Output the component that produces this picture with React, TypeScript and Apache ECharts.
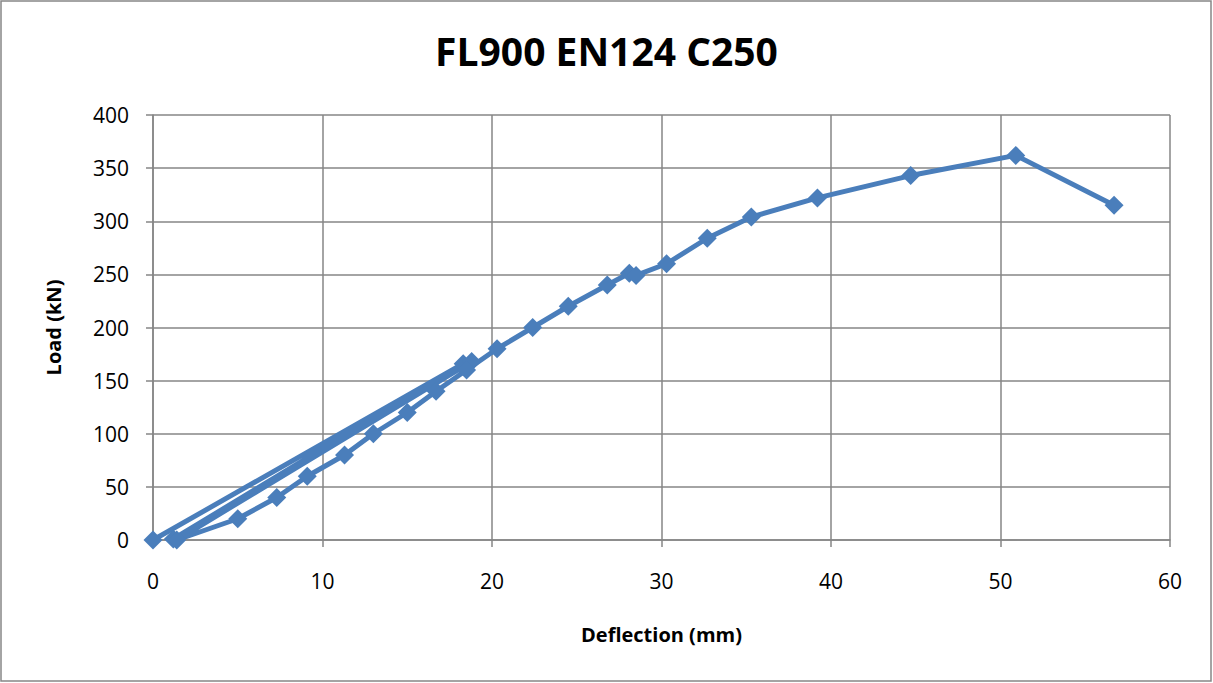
import React, { useEffect, useRef } from "react";
import * as echarts from "echarts";

const chartTitle = "FL900 EN124 C250";
const xAxisName = "Deflection (mm)";
const yAxisName = "Load (kN)";

// Deflection (mm) readings in test order (loading / unloading cycles)
const deflection = [
  0, 18.3, 1.2, 18.8, 1.4, 5.0, 7.3, 9.1, 11.3, 13.0, 15.0, 16.7, 18.5, 20.3,
  22.4, 24.5, 26.8, 28.1, 28.5, 30.3, 32.7, 35.3, 39.2, 44.7, 50.9, 56.7,
];
// Load (kN) readings in the same order
const load = [
  0, 166, 1, 168, 0, 20, 40, 60, 80, 100, 120, 140, 160, 180,
  200, 220, 240, 251, 249, 260, 284, 304, 322, 343, 362, 315,
];

const xTicks = { min: 0, max: 60, interval: 10 };
const yTicks = { min: 0, max: 400, interval: 50 };

const FONT = "'Open Sans', 'Liberation Sans', sans-serif";
const GRID_COLOR = "#868686";
const LINE_COLOR = "#4A7EBB";

export default function App() {
  const ref = useRef<HTMLDivElement>(null);

  useEffect(() => {
    document.body.style.margin = "0";
    if (!ref.current) return;
    const chart = echarts.init(ref.current, null, { renderer: "svg" });
    const points = deflection.map((d, i) => [d, load[i]]);
    chart.setOption({
      animation: false,
      backgroundColor: "#ffffff",
      title: {
        text: chartTitle,
        left: "center",
        top: 26,
        textStyle: {
          fontFamily: FONT,
          fontWeight: "bold",
          fontSize: 39,
          color: "#000",
        },
      },
      graphic: [
        {
          type: "rect",
          shape: { x: 1, y: 1, width: 1210, height: 680 },
          style: { fill: "none", stroke: GRID_COLOR, lineWidth: 1.5 },
          silent: true,
        },
      ],
      grid: { left: 153, right: 43, top: 115, bottom: 143 },
      xAxis: {
        type: "value",
        min: xTicks.min,
        max: xTicks.max,
        interval: xTicks.interval,
        name: xAxisName,
        nameLocation: "middle",
        nameGap: 84,
        nameTextStyle: {
          fontFamily: FONT,
          fontWeight: "bold",
          fontSize: 20,
          color: "#000",
        },
        axisLine: { show: true, lineStyle: { color: GRID_COLOR, width: 1.5 } },
        axisTick: { show: true, length: 7, lineStyle: { color: GRID_COLOR, width: 1.5 } },
        axisLabel: {
          margin: 30,
          fontFamily: FONT,
          fontSize: 21,
          color: "#000",
        },
        splitLine: { show: true, lineStyle: { color: GRID_COLOR, width: 1.5 } },
      },
      yAxis: {
        type: "value",
        min: yTicks.min,
        max: yTicks.max,
        interval: yTicks.interval,
        name: yAxisName,
        nameLocation: "middle",
        nameGap: 90,
        nameRotate: 90,
        nameTextStyle: {
          fontFamily: FONT,
          fontWeight: "bold",
          fontSize: 20,
          color: "#000",
        },
        axisLine: { show: true, lineStyle: { color: GRID_COLOR, width: 1.5 } },
        axisTick: { show: true, length: 7, lineStyle: { color: GRID_COLOR, width: 1.5 } },
        axisLabel: {
          margin: 24,
          fontFamily: FONT,
          fontSize: 21,
          color: "#000",
        },
        splitLine: { show: true, lineStyle: { color: GRID_COLOR, width: 1.5 } },
      },
      series: [
        {
          type: "line",
          data: points,
          clip: false,
          symbol: "diamond",
          symbolSize: 19,
          lineStyle: { color: LINE_COLOR, width: 5 },
          itemStyle: { color: LINE_COLOR },
        },
      ],
    });
    return () => chart.dispose();
  }, []);

  return <div ref={ref} style={{ width: 1213, height: 683 }} />;
}
